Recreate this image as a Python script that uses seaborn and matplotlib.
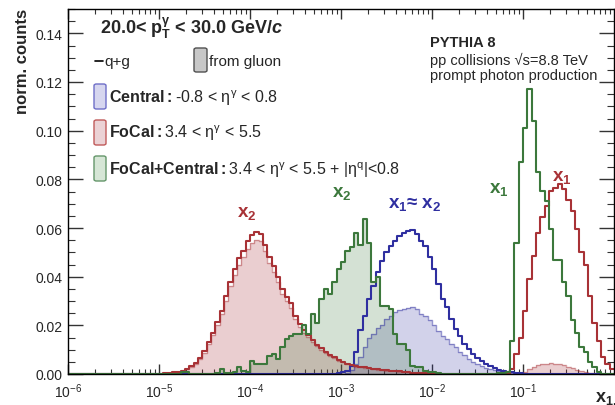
import numpy as np
import matplotlib
matplotlib.use("Agg")
import matplotlib.pyplot as plt
import matplotlib.ticker as mticker
from matplotlib.patches import FancyBboxPatch
from matplotlib.lines import Line2D
import seaborn as sns

# <--- binning: log bins, 21 per decade, 1e-6 .. 1 --->
bins_per_decade = 21
n_decades = 6

# FoCal (red), q+g : x2 part starts at bin 21, x1 part at bin 102
focal_x2_start = 21
focal_x2 = [0.0002, 0.0003, 0.0005, 0.0007, 0.0010, 0.0014, 0.0022, 0.0032, 0.0045, 0.0065,
            0.0095, 0.0130, 0.0170, 0.0215, 0.0260, 0.0320, 0.0380, 0.0430, 0.0475, 0.0505,
            0.0545, 0.0570, 0.0585, 0.0575, 0.0530, 0.0480, 0.0445, 0.0400, 0.0350, 0.0315,
            0.0290, 0.0240, 0.0205, 0.0180, 0.0160, 0.0140, 0.0120, 0.0105, 0.0092, 0.0080,
            0.0070, 0.0058, 0.0050, 0.0042, 0.0036, 0.0032, 0.0029, 0.0027, 0.0025, 0.0022,
            0.0019, 0.0017, 0.0015, 0.0013, 0.0012, 0.0011, 0.0010, 0.0008, 0.0006, 0.0005,
            0.0004, 0.0003, 0.0002, 0.0001]
focal_x1_start = 102
focal_x1 = [0.0020, 0.0082, 0.0150, 0.0260, 0.0390, 0.0486, 0.0580, 0.0644, 0.0690, 0.0753,
            0.0765, 0.0780, 0.0760, 0.0715, 0.0670, 0.0596, 0.0500, 0.0450, 0.0320, 0.0210,
            0.0137, 0.0069, 0.0040, 0.0020]
# FoCal, from gluon
focal_glu_x2 = [0.0002, 0.0003, 0.0005, 0.0007, 0.0010, 0.0013, 0.0020, 0.0030, 0.0042, 0.0060,
                0.0088, 0.0122, 0.0160, 0.0203, 0.0245, 0.0302, 0.0360, 0.0408, 0.0450, 0.0480,
                0.0515, 0.0540, 0.0550, 0.0548, 0.0505, 0.0455, 0.0420, 0.0378, 0.0330, 0.0298,
                0.0272, 0.0228, 0.0195, 0.0170, 0.0152, 0.0132, 0.0114, 0.0100, 0.0088, 0.0076,
                0.0067, 0.0055, 0.0048, 0.0040, 0.0034, 0.0030, 0.0027, 0.0025, 0.0023, 0.0020,
                0.0018, 0.0016, 0.0014, 0.0012, 0.0011, 0.0010, 0.0009, 0.0007, 0.0006, 0.0005,
                0.0004, 0.0003, 0.0002, 0.0001]
focal_glu_x1_start = 104
focal_glu_x1 = [0.0005, 0.0010, 0.0020, 0.0030, 0.0038, 0.0042, 0.0042, 0.0045, 0.0043, 0.0040,
                0.0035, 0.0030, 0.0025, 0.0018, 0.0013, 0.0010, 0.0006, 0.0003]

# Central (blue), x1 ~ x2
central_start = 62
central = [0.0003, 0.0007, 0.0014, 0.0034, 0.0090, 0.0180, 0.0240, 0.0310, 0.0360, 0.0420,
           0.0466, 0.0500, 0.0527, 0.0548, 0.0568, 0.0580, 0.0589, 0.0593, 0.0575, 0.0548,
           0.0527, 0.0480, 0.0430, 0.0370, 0.0310, 0.0274, 0.0226, 0.0185, 0.0157, 0.0123,
           0.0103, 0.0082, 0.0065, 0.0052, 0.0041, 0.0032, 0.0023, 0.0018, 0.0014, 0.0010,
           0.0008, 0.0005, 0.0003, 0.0002]
central_glu_start = 64
central_glu = [0.0005, 0.0015, 0.0040, 0.0069, 0.0110, 0.0150, 0.0164, 0.0190, 0.0200, 0.0226,
               0.0240, 0.0254, 0.0264, 0.0267, 0.0270, 0.0274, 0.0267, 0.0247, 0.0240, 0.0220,
               0.0200, 0.0178, 0.0157, 0.0144, 0.0123, 0.0110, 0.0092, 0.0078, 0.0062, 0.0050,
               0.0040, 0.0032, 0.0025, 0.0020, 0.0016, 0.0012, 0.0009, 0.0007, 0.0005, 0.0003,
               0.0002]

# FoCal+Central (green)
fcc_x2_start = 26
fcc_x2 = [0.0010, 0.0008, 0.0, 0.0, 0.0, 0.0, 0.0, 0.0, 0.0003, 0.0020,
          0.0005, 0.0005, 0.0010, 0.0030, 0.0014, 0.0007, 0.0055, 0.0041, 0.0041, 0.0041,
          0.0073, 0.0082, 0.0060, 0.0110, 0.0144, 0.0157, 0.0164, 0.0164, 0.0200, 0.0164,
          0.0247, 0.0210, 0.0310, 0.0350, 0.0330, 0.0380, 0.0430, 0.0460, 0.0507, 0.0520,
          0.0580, 0.0530, 0.0637, 0.0538, 0.0380, 0.0400, 0.0280, 0.0280, 0.0267, 0.0164,
          0.0123, 0.0123, 0.0100, 0.0034, 0.0030, 0.0030, 0.0014, 0.0007, 0.0007, 0.0005]
fcc_x1_start = 99
fcc_x1 = [0.0005, 0.0005, 0.0008, 0.0137, 0.0540, 0.0870, 0.1010, 0.1170, 0.1040, 0.0830,
          0.0753, 0.0712, 0.0596, 0.0470, 0.0470, 0.0380, 0.0320, 0.0220, 0.0170, 0.0110,
          0.0090, 0.0048, 0.0027, 0.0010]
fcc_glu_x2 = list(fcc_x2)  # gluon fill coincides with the q+g line here

x_ticks = [1e-6, 1e-5, 1e-4, 1e-3, 1e-2, 1e-1]

red, red_fill = "#a83236", "#aa323c"
blue, blue_fill = "#2f2fa0", "#3232a0"
green, green_fill = "#3c783c", "#3c783c"

n_bins = bins_per_decade * n_decades
edges = 10.0 ** (np.arange(n_bins + 1) / bins_per_decade - n_decades)
centers = np.sqrt(edges[:-1] * edges[1:])


def full(*parts):
    h = np.zeros(n_bins)
    for start, vals in parts:
        h[start:start + len(vals)] = vals
    return h


sns.set_style("ticks")
plt.rcParams["font.family"] = ["Liberation Sans", "DejaVu Sans"]
plt.rcParams["mathtext.fontset"] = "custom"
plt.rcParams["mathtext.default"] = "regular"
plt.rcParams["mathtext.rm"] = "Liberation Sans"
plt.rcParams["mathtext.sf"] = "Liberation Sans"
plt.rcParams["mathtext.bf"] = "Liberation Sans:bold"
plt.rcParams["mathtext.it"] = "Liberation Sans:italic:bold"

W, H = 615, 406
fig = plt.figure(figsize=(W / 100, H / 100), dpi=100)
ax = fig.add_axes([68 / W, 1 - 375 / H, 546 / W, 365 / H])


def hist(h, **kw):
    sns.histplot(x=centers, weights=h, bins=list(edges), element="step", ax=ax, legend=False, **kw)


# gluon fills
hist(full((focal_x2_start, focal_glu_x2), (focal_glu_x1_start, focal_glu_x1)),
     fill=True, color=red_fill, alpha=0.24, linewidth=0)
hist(full((central_glu_start, central_glu)), fill=True, color=blue_fill, alpha=0.22, linewidth=0)
hist(full((fcc_x2_start, fcc_glu_x2)), fill=True, color=green_fill, alpha=0.22, linewidth=0)
# gluon edges
hist(full((focal_x2_start, focal_glu_x2), (focal_glu_x1_start, focal_glu_x1)),
     fill=False, color=red, alpha=0.45, linewidth=1.0)
hist(full((central_glu_start, central_glu)), fill=False, color=blue, alpha=0.5, linewidth=1.0)

# q+g lines
hist(full((central_start, central)), fill=False, color=blue, linewidth=1.5)
hist(full((focal_x2_start, focal_x2), (focal_x1_start, focal_x1)), fill=False, color=red, linewidth=1.5)
hist(full((fcc_x2_start, fcc_x2), (fcc_x1_start, fcc_x1)), fill=False, color=green, linewidth=1.5)

ax.set_xscale("log")
ax.set_xlim(1e-6, 1)
ax.set_ylim(0, 0.15)
ax.set_xlabel("")
ax.set_ylabel("")
ax.xaxis.set_major_locator(mticker.FixedLocator(x_ticks))
ax.xaxis.set_major_formatter(mticker.LogFormatterSciNotation())
ax.xaxis.set_minor_locator(mticker.LogLocator(base=10, subs=np.arange(2, 10), numticks=100))
ax.xaxis.set_minor_formatter(mticker.NullFormatter())
ax.yaxis.set_major_locator(mticker.MultipleLocator(0.02))
ax.yaxis.set_minor_locator(mticker.MultipleLocator(0.005))
ax.yaxis.set_major_formatter(mticker.FormatStrFormatter("%.2f"))
ax.tick_params(which="both", direction="in", top=True, right=True, labelsize=10, color="#333333")
ax.tick_params(axis="y", which="major", length=11, width=1, pad=4)
ax.tick_params(axis="y", which="minor", length=5, width=0.8)
ax.tick_params(axis="x", which="major", length=7, width=1, pad=5)
ax.tick_params(axis="x", which="minor", length=3.5, width=0.8)
for s in ax.spines.values():
    s.set_linewidth(1.0)
    s.set_color("black")


def fx(x):
    return x / W


def fy(y):
    return 1 - y / H


# axis titles
fig.text(fx(22.5), fy(9), "norm. counts", rotation=90, ha="center", va="top",
         fontsize=12, fontweight="bold")
fig.text(fx(595), fy(402), "x$_{1,2}$", ha="left", va="baseline", fontsize=13, fontweight="bold")

# header
fig.text(fx(100), fy(34), r"20.0< p$_{T}^{\gamma}$ < 30.0 GeV/$\mathit{c}$",
         fontsize=13, fontweight="bold", va="baseline")

# legend
fig.add_artist(Line2D([fx(95), fx(103)], [fy(62), fy(62)], color="black", lw=1.2,
                      transform=fig.transFigure))
fig.text(fx(104), fy(66), "q+g", fontsize=11, va="baseline")
boxes = [
    (194, 49, 13, 24, "#c8c8c8", "#505050"),
    (94, 85, 12, 25, "#d6d6ef", "#6e6ec8"),
    (94, 121, 12, 25, "#ebd2d5", "#c05a5a"),
    (94, 157, 12, 25, "#d6e6d6", "#64966a"),
]
for x0, y0, w, h, fc, ec in boxes:
    fig.add_artist(FancyBboxPatch((fx(x0), fy(y0 + h)), w / W, h / H,
                                  boxstyle="round,pad=0,rounding_size=0.004",
                                  transform=fig.transFigure, facecolor=fc, edgecolor=ec, lw=1.0))
fig.text(fx(209), fy(66), "from gluon", fontsize=11, va="baseline")
fig.text(fx(109), fy(103), r"$\mathbf{Central{:}}$-0.8 < η$^{γ}$ < 0.8", fontsize=11.5, va="baseline")
fig.text(fx(109), fy(138), r"$\mathbf{FoCal{:}}$3.4 < η$^{γ}$ < 5.5", fontsize=11.5, va="baseline")
fig.text(fx(109), fy(175), r"$\mathbf{FoCal{+}Central{:}}$3.4 < η$^{γ}$ < 5.5 + |η$^{q}$|<0.8",
         fontsize=11.5, va="baseline")

# generator info
fig.text(fx(430), fy(47), "PYTHIA 8", fontsize=10.5, fontweight="bold", va="baseline")
fig.text(fx(430), fy(65), "pp collisions √s=8.8 TeV", fontsize=10.5, va="baseline")
fig.text(fx(430), fy(80), "prompt photon production", fontsize=10.5, va="baseline")

# peak labels
lab = dict(fontsize=13.5, fontweight="bold", va="baseline")
fig.text(fx(237), fy(217), "x$_{2}$", color=red, **lab)
fig.text(fx(332), fy(197), "x$_{2}$", color=green, **lab)
fig.text(fx(388), fy(208), "x$_{1}$≈ x$_{2}$", color=blue, **lab)
fig.text(fx(489), fy(193), "x$_{1}$", color=green, **lab)
fig.text(fx(552), fy(181), "x$_{1}$", color=red, **lab)

fig.savefig("out.png", dpi=100)
